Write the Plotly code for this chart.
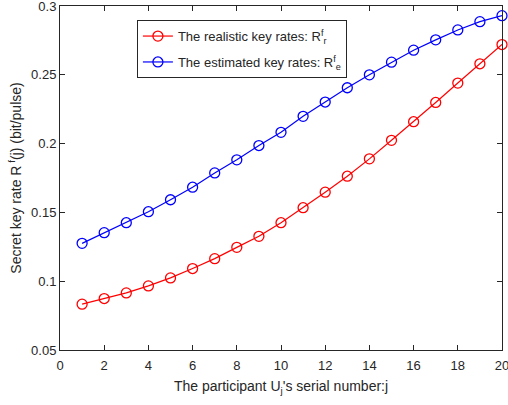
import plotly.graph_objects as go

j = list(range(1, 21))
realistic = [0.0833, 0.0874, 0.0915, 0.0966, 0.1024, 0.1092, 0.1164, 0.1246, 0.1326, 0.1425,
             0.1534, 0.1647, 0.1763, 0.1889, 0.2024, 0.2159, 0.2299, 0.2440, 0.2580, 0.2720]
estimated = [0.1275, 0.1353, 0.1425, 0.1505, 0.1592, 0.1683, 0.1787, 0.1882, 0.1986, 0.2082,
             0.2198, 0.2302, 0.2406, 0.2500, 0.2592, 0.2679, 0.2754, 0.2826, 0.2886, 0.2930]
x_ticks = [0, 2, 4, 6, 8, 10, 12, 14, 16, 18, 20]
y_ticks = [0.05, 0.1, 0.15, 0.2, 0.25, 0.3]
y_tick_labels = ["0.05", "0.1", "0.15", "0.2", "0.25", "0.3"]

font = "Liberation Sans, Arial, sans-serif"
fig = go.Figure()
fig.add_trace(go.Scatter(
    x=j, y=realistic, mode="lines+markers", legendgroup="r",
    name="The realistic key rates: R<sup>f</sup><sub>r</sub>",
    line=dict(color="#ff0000", width=1.2),
    marker=dict(symbol="circle-open", size=10, color="#ff0000", line=dict(width=1.3)),
    cliponaxis=False,
))
fig.add_trace(go.Scatter(
    x=j, y=estimated, mode="lines+markers", legendgroup="e",
    name="The estimated key rates: R<sup>f</sup><sub>e</sub>",
    line=dict(color="#0000ff", width=1.2),
    marker=dict(symbol="circle-open", size=10, color="#0000ff", line=dict(width=1.3)),
    cliponaxis=False,
))

axis_common = dict(
    showline=True, linecolor="#262626", linewidth=1, mirror="ticks",
    ticks="inside", ticklen=5, tickcolor="#262626", showgrid=False, zeroline=False,
    tickfont=dict(family=font, size=13, color="#262626"),
    ticklabeloverflow="allow",
)
fig.update_xaxes(range=[0, 20], tickvals=x_ticks, ticklabelstandoff=3,
                 title=dict(text="The participant U<sub>j</sub>'s serial number:j",
                            font=dict(family=font, size=14, color="#262626"), standoff=9),
                 **axis_common)
fig.update_yaxes(range=[0.05, 0.3], tickvals=y_ticks, ticktext=y_tick_labels,
                 title=dict(text="Secret key rate R<sup> f</sup>(j) (bit/pulse)",
                            font=dict(family=font, size=14, color="#262626"), standoff=6),
                 **axis_common)
fig.update_layout(
    width=508, height=405,
    margin=dict(l=60, r=6, t=6, b=55, autoexpand=False),
    paper_bgcolor="white", plot_bgcolor="white",
    font=dict(family=font, color="#262626"),
    legend=dict(x=0.174, y=0.959, xanchor="left", yanchor="top",
                bordercolor="#262626", borderwidth=1, bgcolor="white",
                font=dict(family=font, size=13, color="#262626"),
                itemwidth=30, tracegroupgap=6, traceorder="grouped"),
    showlegend=True,
)
fig.write_html("out.html", config={"displayModeBar": False},
               post_script="document.body.style.margin='0';document.body.style.overflow='hidden';")
